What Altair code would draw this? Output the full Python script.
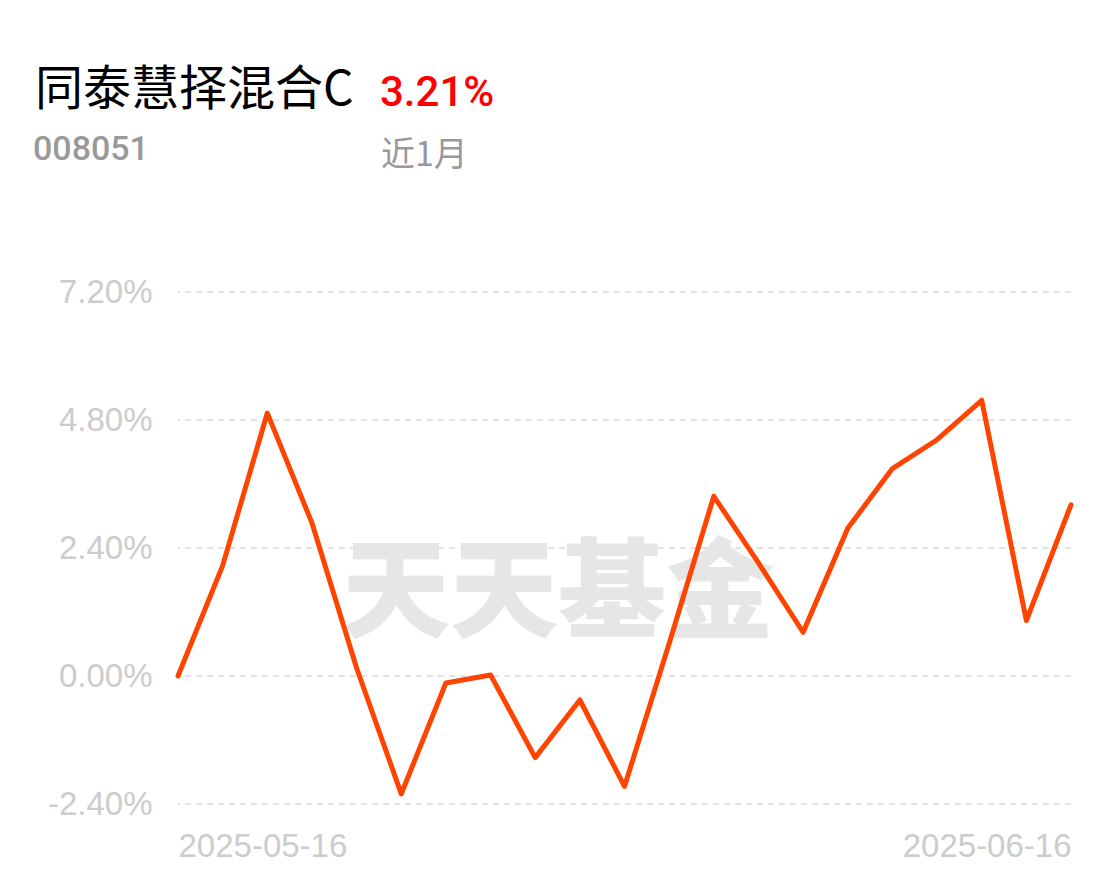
import json
import altair as alt
import pandas as pd

dates = ["2025-05-16", "2025-05-19", "2025-05-20", "2025-05-21", "2025-05-22",
         "2025-05-23", "2025-05-26", "2025-05-27", "2025-05-28", "2025-05-29",
         "2025-05-30", "2025-06-03", "2025-06-04", "2025-06-05", "2025-06-06",
         "2025-06-09", "2025-06-10", "2025-06-11", "2025-06-12", "2025-06-13",
         "2025-06-16"]
returns = [0.00, 2.07, 4.93, 2.87, 0.15, -2.21, -0.13, 0.02, -1.53, -0.45,
           -2.07, 0.61, 3.37, 2.12, 0.82, 2.77, 3.89, 4.43, 5.17, 1.04, 3.21]
y_ticks = [-2.4, 0.0, 2.4, 4.8, 7.2]
x_label_idx = [0, len(dates) - 1]

fund_name = "同泰慧择混合C"
fund_code = "008051"
period_return = "3.21%"
period_label = "近1月"
watermark = "天天基金"

df = pd.DataFrame({"idx": list(range(len(dates))), "date": dates, "ret": returns})
grid_df = pd.DataFrame({"v": y_ticks})

label_expr = json.dumps(dates) + "[datum.value]"

xscale = alt.Scale(domain=[0, len(dates) - 1], nice=False, zero=False)
yscale = alt.Scale(domain=[y_ticks[0], y_ticks[-1]], nice=False, zero=False)

base_axis_font = "Liberation Sans"

wm = alt.Chart(pd.DataFrame({"t": [watermark]})).mark_text(
    font="Noto Sans CJK SC", fontWeight=900, fontSize=108, color="#e6e6e6",
    align="center", baseline="middle"
).encode(x=alt.value(380), y=alt.value(305), text="t:N")

grid = alt.Chart(grid_df).mark_rule(
    color="#e3e3e3", strokeWidth=2, strokeDash=[6, 5]
).encode(y=alt.Y("v:Q", scale=yscale))

line = alt.Chart(df).mark_line(
    color="#ff4400", strokeWidth=5, interpolate="linear", strokeCap="round", strokeJoin="round"
).encode(
    x=alt.X("idx:Q", scale=xscale, title=None,
            axis=alt.Axis(values=x_label_idx, labelExpr=label_expr, labelFlush=True,
                          grid=False, domain=False, ticks=False, labelColor="#cccccc",
                          labelFontSize=33, labelFont=base_axis_font, labelPadding=26)),
    y=alt.Y("ret:Q", scale=yscale, title=None,
            axis=alt.Axis(values=y_ticks,
                          labelExpr="(datum.value < 0 ? '-' : '') + format(abs(datum.value), '.2f') + '%'",
                          grid=False, domain=False, ticks=False, labelColor="#cccccc",
                          labelFontSize=33, labelFont=base_axis_font, labelPadding=26)),
)

def txt(s, x, y, size, color, weight="normal", font="Noto Sans CJK SC"):
    return alt.Chart(pd.DataFrame({"t": [s]})).mark_text(
        font=font, fontSize=size, color=color, fontWeight=weight,
        align="left", baseline="alphabetic"
    ).encode(x=alt.value(x), y=alt.value(y), text="t:N")

t1 = txt(fund_name, -143, -187, 48, "#000000")
t2 = txt(fund_code, -145, -132, 34, "#999999", 500, "Roboto")
t3 = txt(period_return, 202, -186, 42, "#ff0000", 500, "Roboto")
t4 = txt(period_label, 203, -126, 34, "#999999")

chart = alt.layer(wm, grid, line, t1, t2, t3, t4).properties(
    width=893, height=512,
    autosize=alt.AutoSizeParams(type="none"),
    padding={"left": 170, "top": 284, "right": 37, "bottom": 69},
).configure(background="#ffffff").configure_view(stroke=None)

chart.save("out.html", embed_options={"renderer": "svg", "actions": False})
